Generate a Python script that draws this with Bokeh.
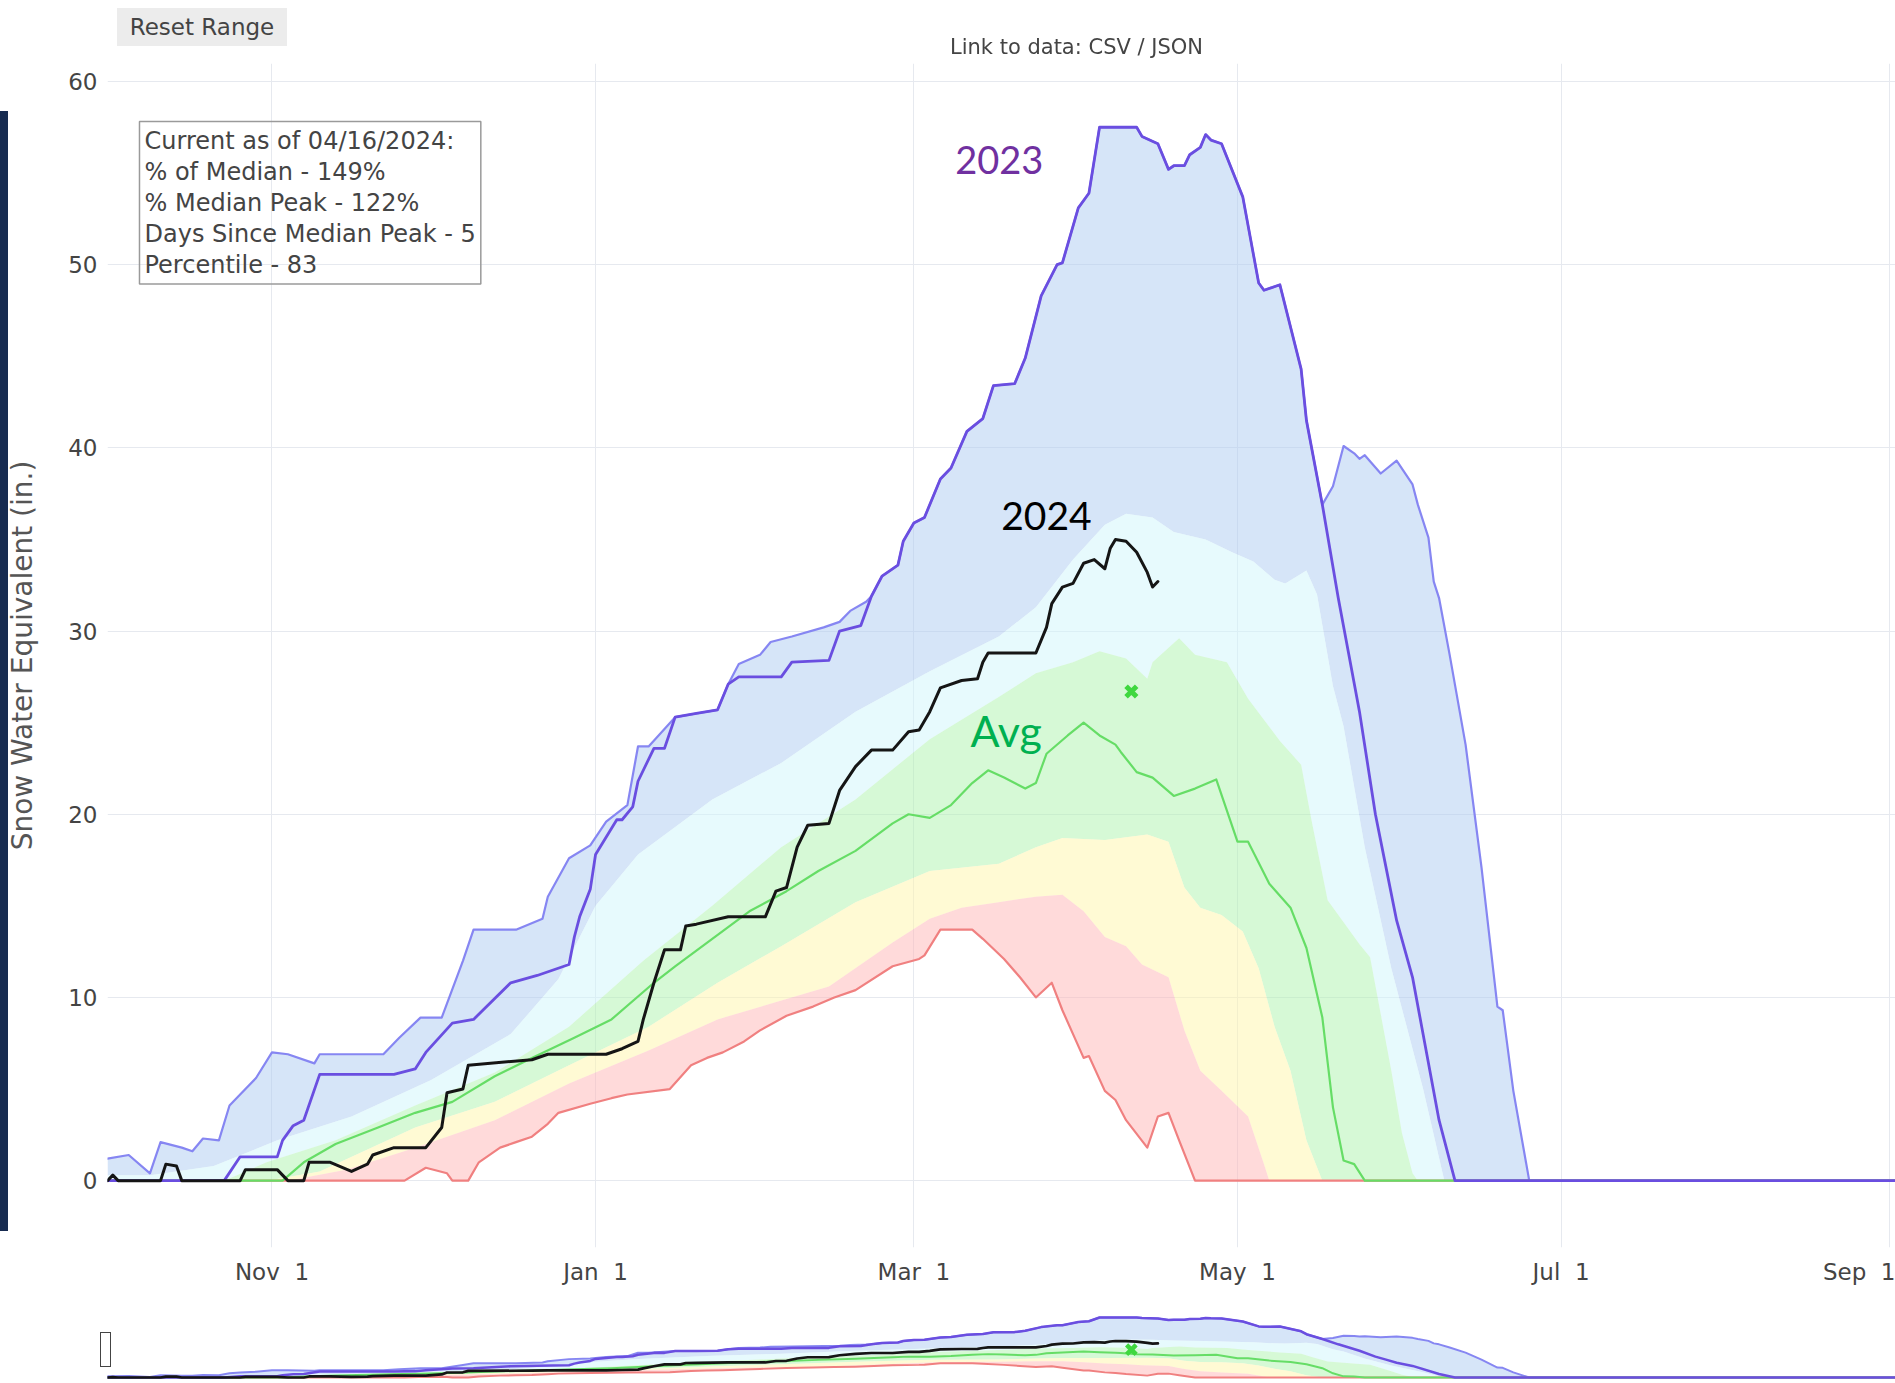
from bokeh.plotting import figure
from bokeh.models import Range1d, FixedTicker, Label, Div
from bokeh.layouts import column
from bokeh.embed import file_html
from bokeh.resources import INLINE

# x values are days since Oct 1 (water-year axis, Oct 1 2023 = day 0)
TICK_DAYS = [31, 92, 152, 213, 274, 336]
TICK_LABELS = ["Nov\u00a0\u00a01", "Jan\u00a0\u00a01", "Mar\u00a0\u00a01", "May\u00a0\u00a01", "Jul\u00a0\u00a01",
               "Sep\u00a0\u00a01"]
Y_TICKS = [0, 10, 20, 30, 40, 50, 60]

MAX_DAY = [0, 4, 8, 10, 14, 16, 18, 21, 23, 25, 28, 31, 34, 39, 40, 52, 55, 59, 63, 67, 69, 77, 82, 83, 87, 91, 94,
           98, 100, 102, 107, 111, 115, 117, 119, 123, 125, 129, 135, 138, 140, 143, 144, 146, 149, 150, 152, 154,
           157, 159, 162, 165, 167, 171, 173, 176, 179, 180, 183, 185, 187, 194, 195, 198, 200, 201, 203, 204, 206,
           207, 208, 210, 214, 217, 218, 221, 225, 226, 229, 231, 233, 235, 236, 237, 240, 243, 246, 247, 249, 250,
           251, 253, 256, 259, 262, 263, 265, 268, 365]
MAX_SWE = [1.2, 1.4, 0.4, 2.1, 1.8, 1.6, 2.3, 2.2, 4.1, 4.7, 5.6, 7.0, 6.9, 6.4, 6.9, 6.9, 7.8, 8.9, 8.9, 12.0, 13.7,
           13.7, 14.3, 15.5, 17.6, 18.3, 19.6, 20.5, 23.7, 23.7, 25.3, 25.5, 25.7, 27.1, 28.2, 28.7, 29.4, 29.7, 30.2,
           30.5, 31.1, 31.6, 31.9, 33.0, 33.6, 34.9, 35.9, 36.2, 38.3, 38.9, 40.9, 41.6, 43.4, 43.5, 44.9, 48.3, 50.0,
           50.1, 53.1, 53.9, 57.5, 57.5, 57.0, 56.6, 55.2, 55.4, 55.4, 56.0, 56.4, 57.1, 56.8, 56.6, 53.7, 49.0, 48.6,
           48.9, 44.3, 41.5, 36.9, 37.9, 40.1, 39.7, 39.4, 39.6, 38.6, 39.3, 38.0, 36.9, 35.1, 32.7, 31.8, 28.7, 23.8,
           17.1, 9.5, 9.3, 4.9, 0.0, 0.0]

P90_DAY = [0, 8, 20, 32, 46, 61, 76, 85, 92, 100, 114, 127, 141, 155, 168, 175, 182, 188, 192, 197, 201, 207, 212,
           216, 220, 222, 226, 228, 231, 233, 237, 242, 248, 252, 365]
P90_SWE = [0.3, 0.3, 0.8, 2.2, 3.5, 5.5, 8.0, 11.0, 15.0, 17.8, 20.8, 22.8, 25.6, 27.8, 29.7, 31.3, 33.9, 35.8, 36.4,
           36.2, 35.4, 35.0, 34.3, 33.8, 32.8, 32.6, 33.3, 32.0, 27.0, 24.8, 18.2, 11.6, 5.0, 0.0, 0.0]

P70_DAY = [0, 22, 30, 43, 58, 73, 87, 101, 114, 127, 141, 155, 168, 175, 182, 187, 192, 196, 197, 202, 205, 211, 215,
           221, 225, 227, 230, 236, 238, 240, 242, 244, 246, 247, 365]
P70_SWE = [0.0, 0.0, 1.0, 2.2, 4.1, 5.9, 8.4, 12.0, 15.0, 18.2, 20.8, 24.1, 26.4, 27.7, 28.3, 28.9, 28.5, 27.4, 28.3,
           29.6, 28.7, 28.3, 26.3, 24.0, 22.7, 19.6, 15.3, 12.9, 12.2, 9.1, 6.0, 2.6, 0.4, 0.0, 0.0]

P30_DAY = [0, 30, 40, 58, 73, 87, 102, 115, 127, 141, 155, 168, 175, 180, 188, 196, 200, 203, 206, 210, 214, 217, 220,
           223, 226, 229, 365]
P30_SWE = [0.0, 0.0, 0.5, 2.9, 4.3, 6.3, 8.4, 10.8, 12.8, 15.2, 16.9, 17.3, 18.2, 18.7, 18.6, 18.9, 18.5, 16.0, 14.9,
           14.5, 13.6, 11.6, 8.4, 6.0, 2.2, 0.0, 0.0]

P10_DAY = [0, 34, 45, 58, 73, 87, 102, 115, 136, 148, 155, 161, 168, 175, 180, 184, 188, 192, 195, 200, 203, 206, 210,
           215, 218, 219, 365]
P10_SWE = [0.0, 0.0, 0.6, 1.8, 3.3, 5.3, 7.1, 8.8, 10.6, 13.0, 14.3, 14.9, 15.2, 15.5, 15.6, 14.7, 13.3, 12.8, 11.8,
           11.1, 8.2, 6.0, 4.9, 3.5, 0.9, 0.0, 0.0]

MIN_DAY = [0, 56, 60, 64, 65, 68, 70, 74, 77, 80, 83, 85, 91, 95, 98, 106, 110, 113, 116, 120, 123, 128, 133, 137,
           141, 148, 153, 154, 157, 163, 165, 169, 172, 175, 178, 180, 184, 185, 188, 190, 192, 196, 198, 200, 202,
           205, 365]
MIN_SWE = [0.0, 0.0, 0.7, 0.4, 0.0, 0.0, 1.0, 1.8, 2.1, 2.4, 3.1, 3.7, 4.2, 4.5, 4.7, 5.0, 6.3, 6.7, 7.0, 7.6, 8.2,
           9.0, 9.5, 10.0, 10.4, 11.7, 12.1, 12.3, 13.7, 13.7, 13.2, 12.1, 11.1, 10.0, 10.8, 9.3, 6.7, 6.8, 4.9, 4.4,
           3.3, 1.8, 3.5, 3.7, 2.2, 0.0, 0.0]

MED_DAY = [0, 33, 37, 43, 51, 58, 65, 73, 80, 88, 95, 103, 107, 114, 121, 128, 134, 141, 148, 151, 155, 159, 163, 166,
           169, 173, 175, 177, 181, 184, 187, 190, 191, 194, 197, 201, 205, 209, 213, 215, 219, 223, 226, 229, 231,
           233, 235, 237, 365]
MED_SWE = [0.0, 0.0, 1.0, 2.0, 2.9, 3.7, 4.3, 5.7, 6.7, 7.8, 8.8, 10.8, 11.7, 13.2, 14.7, 15.8, 16.9, 18.0, 19.5, 20.0,
           19.8, 20.5, 21.7, 22.4, 22.0, 21.4, 21.7, 23.3, 24.3, 25.0, 24.3, 23.8, 23.4, 22.3, 22.0, 21.0, 21.4, 21.9,
           18.5, 18.5, 16.2, 14.9, 12.7, 8.9, 4.0, 1.1, 0.9, 0.0, 0.0]

WY23_DAY = [0, 22, 25, 32, 33, 35, 37, 40, 54, 58, 60, 65, 69, 76, 81, 87, 88, 89, 91, 92, 96, 97, 99, 100, 103, 105,
            107, 111, 115, 117, 119, 127, 129, 136, 138, 142, 144, 146, 149, 150, 152, 154, 157, 159, 162, 165, 167,
            171, 173, 176, 179, 180, 183, 185, 187, 194, 195, 198, 200, 201, 203, 204, 206, 207, 208, 210, 214, 217,
            218, 221, 225, 226, 229, 232, 234, 236, 239, 241, 243, 246, 251, 254, 365]
WY23_SWE = [0.0, 0.0, 1.3, 1.3, 2.2, 3.0, 3.3, 5.8, 5.8, 6.1, 7.0, 8.6, 8.8, 10.8, 11.2, 11.8, 13.3, 14.4, 15.9, 17.8,
            19.7, 19.7, 20.4, 21.8, 23.6, 23.6, 25.3, 25.5, 25.7, 27.1, 27.5, 27.5, 28.3, 28.4, 30.0, 30.3, 31.9, 33.0,
            33.6, 34.9, 35.9, 36.2, 38.3, 38.9, 40.9, 41.6, 43.4, 43.5, 44.9, 48.3, 50.0, 50.1, 53.1, 53.9, 57.5, 57.5,
            57.0, 56.6, 55.2, 55.4, 55.4, 56.0, 56.4, 57.1, 56.8, 56.6, 53.7, 49.0, 48.6, 48.9, 44.3, 41.5, 36.9, 31.8,
            28.7, 25.6, 20.0, 17.1, 14.2, 11.1, 3.3, 0.0, 0.0]

WY24_DAY = [0, 1, 2, 10, 11, 13, 14, 25, 26, 32, 34, 37, 38, 42, 46, 49, 50, 54, 60, 63, 64, 67, 68, 80, 83, 94, 97,
            100, 101, 103, 105, 108, 109, 111, 117, 124, 126, 128, 130, 132, 136, 138, 141, 144, 148, 151, 153, 155,
            157, 161, 164, 165, 166, 175, 177, 178, 180, 182, 184, 186, 188, 189, 190, 192, 194, 196, 197, 198]
WY24_SWE = [0.0, 0.3, 0.0, 0.0, 0.9, 0.8, 0.0, 0.0, 0.6, 0.6, 0.0, 0.0, 1.0, 1.0, 0.5, 0.9, 1.4, 1.8, 1.8, 2.9, 4.8,
            5.0, 6.3, 6.6, 6.9, 6.9, 7.2, 7.6, 8.8, 10.8, 12.6, 12.6, 13.9, 14.0, 14.4, 14.4, 15.8, 16.0, 18.2, 19.4,
            19.5, 21.3, 22.6, 23.5, 23.5, 24.5, 24.6, 25.6, 26.9, 27.3, 27.4, 28.3, 28.8, 28.8, 30.2, 31.5, 32.4, 32.6,
            33.7, 33.9, 33.4, 34.5, 35.0, 34.9, 34.3, 33.2, 32.4, 32.7]

PEAK_DAY = [193]
PEAK_SWE = [26.7]

INFO_LINES = ["Current as of 04/16/2024:", "% of Median - 149%", "% Median Peak - 122%",
              "Days Since Median Peak - 5", "Percentile - 83"]

BANDS = [
    ((P90_DAY, P90_SWE), (MAX_DAY, MAX_SWE), "#adcbf1"),
    ((P70_DAY, P70_SWE), (P90_DAY, P90_SWE), "#cff5fb"),
    ((P30_DAY, P30_SWE), (P70_DAY, P70_SWE), "#adf3ad"),
    ((P10_DAY, P10_SWE), (P30_DAY, P30_SWE), "#fff5a9"),
    ((MIN_DAY, MIN_SWE), (P10_DAY, P10_SWE), "#ffb5b5"),
]

FONT = "DejaVu Sans"


def draw(fig, lw):
    for (ld, lv), (hd, hv), col in BANDS:
        xs = list(ld) + list(hd)[::-1]
        ys = list(lv) + list(hv)[::-1]
        fig.patch(xs, ys, fill_color=col, fill_alpha=0.5, line_color=None)
    kw = dict(line_join="round", line_cap="round")
    fig.line(MAX_DAY, MAX_SWE, line_color="#8686f2", line_width=2.2 * lw, **kw)
    fig.line(MIN_DAY, MIN_SWE, line_color="#f08080", line_width=2.2 * lw, **kw)
    fig.line(MED_DAY, MED_SWE, line_color="#66dd66", line_width=2.2 * lw, **kw)
    fig.line(WY23_DAY, WY23_SWE, line_color="#6a4ee0", line_width=2.8 * lw, **kw)
    fig.line(WY24_DAY, WY24_SWE, line_color="#151515", line_width=3.0 * lw, **kw)
    fig.scatter(PEAK_DAY, PEAK_SWE, marker="x", size=15 * lw, line_width=5 * lw, line_color="#3fd83f")


W = 1895
X_END = 337.04
p = figure(width=W, height=1300, output_backend="svg", toolbar_location=None,
           x_range=Range1d(0, X_END), y_range=Range1d(-3.65, 60.98),
           min_border_left=107, min_border_right=0, min_border_top=63, min_border_bottom=53)
p.outline_line_color = None
p.background_fill_color = "white"
p.border_fill_color = "white"

draw(p, 1.0)

p.xaxis.ticker = FixedTicker(ticks=TICK_DAYS)
p.xaxis.major_label_overrides = {d: lab for d, lab in zip(TICK_DAYS, TICK_LABELS)}
p.yaxis.ticker = FixedTicker(ticks=Y_TICKS)
for ax in (p.xaxis[0], p.yaxis[0]):
    ax.axis_line_color = None
    ax.major_tick_line_color = None
    ax.minor_tick_line_color = None
    ax.major_tick_out = 0
    ax.major_tick_in = 0
    ax.major_label_text_font = FONT
    ax.major_label_text_font_size = "23px"
    ax.major_label_text_color = "#444444"
p.xaxis.major_label_standoff = 11
p.yaxis.major_label_standoff = 10
p.yaxis.axis_label = "Snow Water Equivalent (in.)"
p.yaxis.axis_label_text_font = FONT
p.yaxis.axis_label_text_font_style = "normal"
p.yaxis.axis_label_text_font_size = "28px"
p.yaxis.axis_label_text_color = "#555555"
p.yaxis.axis_label_standoff = 26
p.grid.grid_line_color = "#e6e9ef"
p.grid.grid_line_width = 1

p.add_layout(Label(x=6.03, y=57.81, text="\n".join(INFO_LINES), anchor="top_left", text_align="left",
                   text_font=FONT, text_font_size="24px", text_color="#444444", text_line_height=1.11,
                   border_line_color="#9a9a9a", border_line_width=1.5, padding=5))
p.add_layout(Label(x=168.1, y=55.70, text="2023", text_align="center", text_baseline="alphabetic",
                   text_font="Lato", text_font_size="38px", text_color="#7030a0"))
p.add_layout(Label(x=177.0, y=36.27, text="2024", text_align="center", text_baseline="alphabetic",
                   text_font="Lato", text_font_size="39px", text_color="#000000"))
p.add_layout(Label(x=169.4, y=24.56, text="Avg", text_align="center", text_baseline="alphabetic",
                   text_font="Lato", text_font_size="43px", text_color="#00b050"))

# range-slider style overview (full season, compressed)
p2 = figure(width=W, height=82, output_backend="svg", toolbar_location=None,
            x_range=Range1d(0, X_END), y_range=Range1d(-4.8, 61.35),
            x_axis_location=None, y_axis_location=None,
            min_border_left=107, min_border_right=0, min_border_top=13, min_border_bottom=0)
p2.outline_line_color = None
p2.grid.visible = False
p2.background_fill_color = "white"
p2.border_fill_color = "white"
draw(p2, 0.9)

bar = Div(text="", width=8, height=1120, margin=0,
          styles={"position": "fixed", "left": "0px", "top": "111px", "background-color": "#172b50"})
handle = Div(text="", width=11, height=35, margin=0,
             styles={"position": "fixed", "left": "100px", "top": "1332px", "width": "11px", "height": "35px",
                     "box-sizing": "border-box", "border": "1.5px solid #444444", "background-color": "white"})
reset = Div(text="Reset Range", width=170, height=38, margin=0,
            styles={"position": "fixed", "left": "117px", "top": "8px", "width": "170px", "height": "38px",
                    "background-color": "#ececec", "color": "#444444", "font-family": FONT,
                    "font-size": "23px", "line-height": "38px", "text-align": "center"})
link = Div(text="Link to data: CSV / JSON", width=270, height=24, margin=0,
           styles={"position": "fixed", "left": "950px", "top": "35px", "width": "270px", "height": "24px",
                   "color": "#444444", "font-family": FONT, "font-size": "21px", "line-height": "24px"})

layout = column(p, p2, bar, handle, reset, link, spacing=0)
open("out.html", "w").write(file_html(layout, INLINE))
